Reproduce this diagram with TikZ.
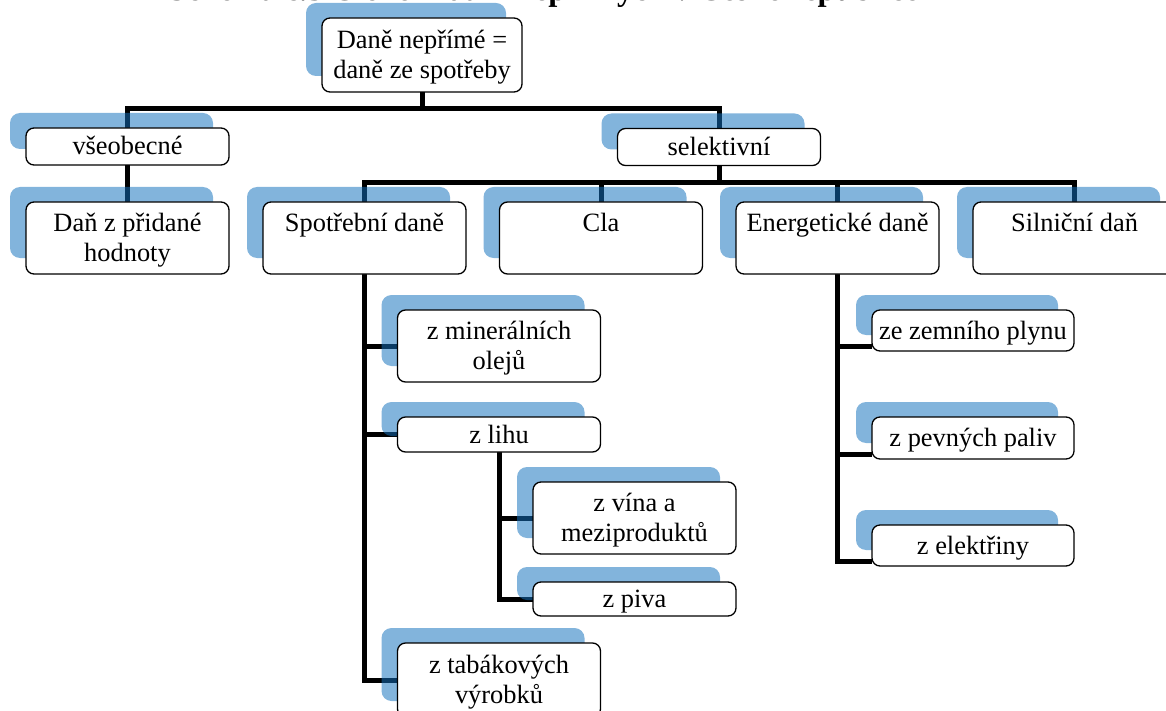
\documentclass[tikz,border=0pt]{standalone}
\usepackage{fontspec}
\setmainfont{Liberation Serif}
\definecolor{shadeblue}{RGB}{19,113,189}
\pgfdeclarelayer{back}
\pgfdeclarelayer{shade}
\pgfsetlayers{back,shade,main}
% line strut: same height/depth for every line
\newcommand{\ls}{\rule[-6pt]{0pt}{29pt}}
\tikzset{
  box/.style={draw, line width=1.3pt, fill=white, rounded corners=8pt,
    inner sep=0pt, outer sep=0pt, minimum width=203pt, align=center,
    font=\fontsize{26.4}{30}\selectfont},
  conn/.style={line width=5pt},
}
\begin{document}
\begin{tikzpicture}[x=1pt,y=-1pt]
\useasboundingbox (0,0) rectangle (1166,711);
\clip (0,0) rectangle (1166,711);
% title, cut at the top
\node[anchor=base east, inner sep=0pt, font=\fontsize{32.5}{36}\selectfont\bfseries]
    (title) at (919,1) {Schéma č.3 Členění daní nepřímých v České republice};
% boxes
\node[box, minimum width=200pt, minimum height=74pt] (root) at (422,55) {\ls Daně nepřímé =\\daně ze spotřeby\ls};
\node[box, minimum height=37pt] (vseob) at (127.5,146.5) {\ls všeobecné};
\node[box, minimum height=72pt] (dph) at (127.5,238) {\ls Daň z přidané\\hodnoty\ls};
\node[box, minimum height=37pt] (selekt) at (719,147) {\ls selektivní};
\node[box, minimum height=72pt] (spotr) at (364.5,238) {\ls Spotřební daně\\\ls};
\node[box, minimum height=72pt] (cla) at (601,238) {\ls Cla\\\ls};
\node[box, minimum height=72pt] (energ) at (837.5,238) {\ls Energetické daně\\\ls};
\node[box, minimum height=72pt] (silnic) at (1074.5,238) {\ls Silniční daň\\\ls};
% spotřební daně
\node[box, minimum height=72pt] (miner) at (499,346) {\ls z minerálních\\olejů\ls};
\node[box, minimum height=35pt] (lih) at (499,434.5) {\ls z lihu};
\node[box, minimum height=72pt] (vino) at (634.5,518) {\ls z vína a\\meziproduktů\ls};
\node[box, minimum height=34pt] (piva) at (634.5,599) {\ls z piva};
\node[box, minimum height=74pt] (tabak) at (499,680) {\ls z tabákových\\výrobků\ls};
% energetické daně
\node[box, minimum width=202pt, minimum height=41pt] (zemni) at (973,330.5) {\ls ze zemního plynu};
\node[box, minimum width=202pt, minimum height=42pt] (pevna) at (973,438) {\ls z pevných paliv};
\node[box, minimum width=202pt, minimum height=41pt] (elektr) at (973,545.5) {\ls z elektřiny};
% blue plates behind the boxes
\begin{pgfonlayer}{shade}
\foreach \n in {root,vseob,dph,selekt,spotr,cla,energ,silnic,miner,lih,vino,piva,tabak,zemni,pevna,elektr}
  \fill[shadeblue, fill opacity=0.53, rounded corners=10pt]
    ([shift={(-16,-15)}]\n.north west) rectangle ([shift={(-16,-16)}]\n.south east);
\end{pgfonlayer}
% connectors
\begin{pgfonlayer}{back}
\coordinate (bus1) at (423,109);
\coordinate (bus2) at (718,183);
\draw[conn] (root.south) -- (root.south |- bus1);
\draw[conn] (vseob.north) |- (bus1) -| (selekt.north);
\draw[conn] (vseob.south) -- (dph.north);
\draw[conn] (selekt.south) -- (selekt.south |- bus2);
\draw[conn] (spotr.north) |- (bus2) -| (silnic.north);
\foreach \n in {cla,energ}
  \draw[conn] (\n.north) -- (\n.north |- bus2);
\draw[conn] (spotr.south) |- (tabak.west);
\foreach \n in {miner,lih}
  \draw[conn] (spotr.south |- \n.west) -- (\n.west);
\draw[conn] (lih.south) |- (piva.west);
\draw[conn] (lih.south |- vino.west) -- (vino.west);
\draw[conn] (energ.south) |- ([yshift=5pt]elektr.south west);
\foreach \n in {zemni,pevna}
  \draw[conn] ([yshift=5pt]\n.south west) -| (energ.south);
\end{pgfonlayer}
\end{tikzpicture}
\end{document}
